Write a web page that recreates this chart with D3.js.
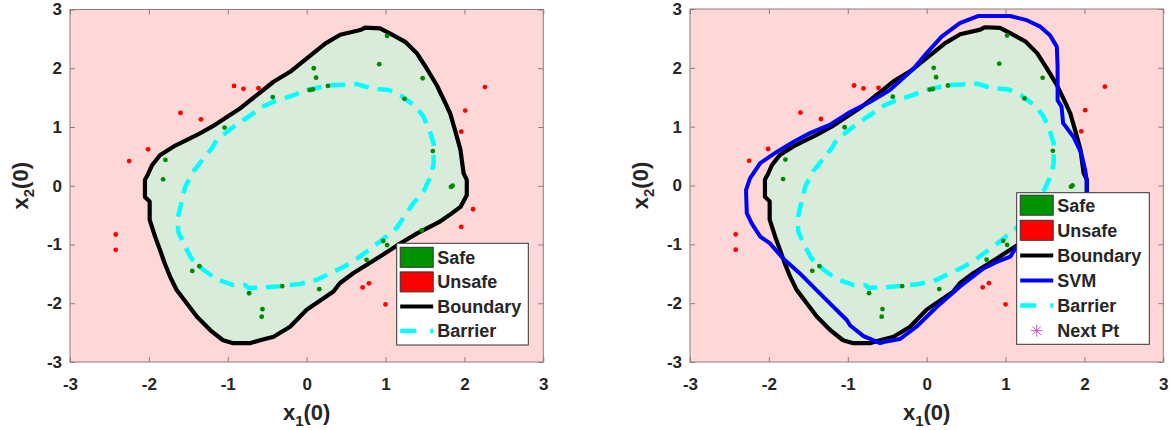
<!DOCTYPE html>
<html>
<head>
<meta charset="utf-8">
<script src="https://cdn.jsdelivr.net/npm/d3@7"></script>
<style>
  html, body { margin: 0; padding: 0; background: #fff; }
  svg { display: block; }
  text { font-family: "Liberation Sans", Arial, sans-serif; font-weight: bold; fill: #262626; }
</style>
</head>
<body>
<svg id="chart" width="1172" height="430"></svg>
<script>
// ---------------- data ----------------
const tickValues = [-3, -2, -1, 0, 1, 2, 3];
const xLabelMain = "x", xLabelSub = "1", yLabelSub = "2", labelTail = "(0)";

// boundary of the true safe set (x1, x2)
const boundaryPts = [
  [0.74,2.69],[0.93,2.68],[1.06,2.59],[1.25,2.45],[1.40,2.25],[1.52,2.00],[1.65,1.71],[1.74,1.46],
  [1.82,1.23],[1.88,0.95],[1.95,0.61],[1.99,0.21],[2.03,0.10],[2.03,-0.16],[1.95,-0.36],[1.84,-0.47],
  [1.69,-0.61],[1.40,-0.81],[1.19,-0.98],[0.89,-1.24],[0.59,-1.49],[0.42,-1.66],[0.34,-1.80],[0.00,-2.11],
  [-0.21,-2.40],[-0.42,-2.57],[-0.59,-2.63],[-0.72,-2.68],[-0.93,-2.68],[-1.06,-2.63],[-1.22,-2.46],
  [-1.39,-2.23],[-1.52,-2.00],[-1.65,-1.77],[-1.73,-1.55],[-1.80,-1.32],[-1.86,-1.09],[-1.92,-0.87],
  [-1.99,-0.58],[-1.99,-0.27],[-2.05,-0.19],[-2.05,0.10],[-2.01,0.20],[-1.96,0.35],[-1.86,0.52],
  [-1.69,0.665],[-1.39,0.864],[-1.20,1.005],[-0.84,1.32],[-0.42,1.77],[-0.21,1.94],[0.235,2.42],
  [0.425,2.57],[0.68,2.65]
];

// barrier level set
const barrierPts = [
  [0.00,1.63],[0.30,1.71],[0.64,1.73],[0.81,1.66],[1.04,1.63],[1.19,1.54],[1.38,1.35],[1.48,1.18],
  [1.57,0.89],[1.61,0.72],[1.61,0.38],[1.57,0.15],[1.48,-0.10],[1.35,-0.30],[1.14,-0.72],[0.93,-0.95],
  [0.64,-1.24],[0.47,-1.38],[0.13,-1.60],[-0.08,-1.67],[-0.34,-1.71],[-0.53,-1.73],[-0.74,-1.74],
  [-0.78,-1.69],[-0.93,-1.69],[-1.14,-1.59],[-1.31,-1.43],[-1.46,-1.24],[-1.54,-1.04],[-1.63,-0.78],
  [-1.63,-0.53],[-1.58,-0.24],[-1.54,-0.02],[-1.44,0.24],[-1.20,0.64],[-1.14,0.78],[-0.93,1.00],
  [-0.55,1.35],[-0.42,1.43],[-0.17,1.54]
];

// SVM decision boundary (right panel only)
const svmPts = [
  [0.19,2.53],[0.42,2.76],[0.65,2.88],[1.06,2.88],[1.27,2.81],[1.44,2.70],[1.56,2.56],[1.65,2.36],
  [1.66,2.02],[1.66,1.45],[1.71,1.34],[1.73,1.06],[1.86,0.83],[1.96,0.55],[2.01,0.26],[2.03,0.09],
  [2.03,-0.13],[1.95,-0.45],[1.60,-0.75],[1.30,-0.95],[1.14,-1.04],[1.06,-1.21],[0.89,-1.30],
  [0.72,-1.41],[0.42,-1.72],[0.13,-2.06],[-0.13,-2.40],[-0.34,-2.61],[-0.51,-2.65],[-0.59,-2.68],
  [-0.80,-2.56],[-0.97,-2.38],[-1.01,-2.29],[-1.23,-2.00],[-1.44,-1.72],[-1.61,-1.49],[-1.82,-1.24],
  [-1.99,-0.98],[-2.11,-0.87],[-2.22,-0.64],[-2.28,-0.47],[-2.29,-0.08],[-2.24,0.12],[-2.11,0.38],
  [-1.90,0.57],[-1.69,0.74],[-1.48,0.89],[-1.23,1.03],[-0.97,1.25],[-0.72,1.42],[-0.47,1.62],
  [-0.17,1.98],[0.00,2.25]
];

const safePts = [
  [0.09,2.00],[0.12,1.84],[0.04,1.63],[0.08,1.64],[0.27,1.70],[-0.43,1.51],[-1.04,0.99],[-1.79,0.44],
  [-1.82,0.11],[1.02,2.55],[0.92,2.07],[1.47,1.83],[1.24,1.48],[1.60,0.59],[1.85,0.00],[1.83,-0.02],
  [1.02,-1.01],[0.97,-0.94],[0.76,-1.26],[1.46,-0.76],[-0.31,-1.71],[0.16,-1.76],[-0.73,-1.83],
  [-0.56,-2.10],[-0.57,-2.23],[-1.45,-1.45],[-1.36,-1.37]
];

const unsafePts = [
  [-0.92,1.70],[-0.80,1.65],[-0.61,1.66],[-1.60,1.24],[-1.34,1.13],[-2.01,0.62],[-2.25,0.42],
  [-2.42,-0.83],[-2.42,-1.09],[2.26,1.68],[2.01,1.28],[1.96,0.92],[2.11,-0.40],[1.96,-0.70],
  [0.71,-1.73],[0.79,-1.66],[1.00,-2.02]
];

const nextPts = [];

const legendLeft = ["Safe", "Unsafe", "Boundary", "Barrier"];
const legendRight = ["Safe", "Unsafe", "Boundary", "SVM", "Barrier", "Next Pt"];

// ---------------- styles ----------------
const C = {
  bg: "#ffd7d7", fill: "#d9ecd9", axis: "#8f7b7b",
  safe: "#008a00", unsafe: "#ff0000", boundary: "#000000",
  svm: "#0000ff", barrier: "#00ffff", next: "#cc55cc",
  patchSafe: "#009400", patchUnsafe: "#ff0000"
};

const svg = d3.select("#chart");

function panel(opts) {
  const x = d3.scaleLinear().domain([-3, 3]).range([opts.left, opts.right]);
  const y = d3.scaleLinear().domain([-3, 3]).range([opts.bottom, opts.top]);
  const g = svg.append("g");
  const clipId = "clip" + opts.id;
  g.append("clipPath").attr("id", clipId).append("rect")
    .attr("x", opts.left).attr("y", opts.top)
    .attr("width", opts.right - opts.left).attr("height", opts.bottom - opts.top);

  g.append("rect").attr("x", opts.left).attr("y", opts.top)
    .attr("width", opts.right - opts.left).attr("height", opts.bottom - opts.top)
    .attr("fill", C.bg);

  const line = d3.line().x(d => x(d[0])).y(d => y(d[1])).curve(d3.curveLinearClosed);
  const plot = g.append("g").attr("clip-path", `url(#${clipId})`);

  plot.append("path").attr("d", line(boundaryPts)).attr("fill", C.fill).attr("stroke", "none");

  plot.append("path").attr("d", line(barrierPts)).attr("fill", "none")
    .attr("stroke", C.barrier).attr("stroke-width", 4.5)
    .attr("stroke-dasharray", "15,9").attr("stroke-linejoin", "round");

  plot.append("path").attr("d", line(boundaryPts)).attr("fill", "none")
    .attr("stroke", C.boundary).attr("stroke-width", 4.2).attr("stroke-linejoin", "round");

  if (opts.svm) {
    plot.append("path").attr("d", line(svmPts)).attr("fill", "none")
      .attr("stroke", C.svm).attr("stroke-width", 4).attr("stroke-linejoin", "round");
  }

  plot.selectAll(".safe").data(safePts).join("circle").attr("class", "safe")
    .attr("cx", d => x(d[0])).attr("cy", d => y(d[1])).attr("r", 2.4).attr("fill", C.safe);
  plot.selectAll(".unsafe").data(unsafePts).join("circle").attr("class", "unsafe")
    .attr("cx", d => x(d[0])).attr("cy", d => y(d[1])).attr("r", 2.4).attr("fill", C.unsafe);

  // axes (inward ticks)
  const fmt = d => String(d);
  const styleAxis = sel => {
    sel.select(".domain").remove();
    sel.selectAll(".tick line").attr("stroke", C.axis).attr("stroke-width", 1);
    sel.selectAll(".tick text").style("font-size", "17px").attr("fill", "#262626");
  };
  g.append("g").attr("transform", `translate(0,${opts.bottom})`)
    .call(d3.axisBottom(x).tickValues(tickValues).tickSize(-5).tickPadding(16).tickFormat(fmt))
    .call(styleAxis);
  g.append("g").attr("transform", `translate(${opts.left},0)`)
    .call(d3.axisLeft(y).tickValues(tickValues).tickSize(-5).tickPadding(8).tickFormat(fmt))
    .call(styleAxis);
  g.append("g").attr("transform", `translate(0,${opts.top})`)
    .call(d3.axisTop(x).tickValues(tickValues).tickSize(-5).tickFormat(""))
    .call(styleAxis);
  g.append("g").attr("transform", `translate(${opts.right},0)`)
    .call(d3.axisRight(y).tickValues(tickValues).tickSize(-5).tickFormat(""))
    .call(styleAxis);
  g.selectAll(".tick text").attr("font-family", null);

  g.append("rect").attr("x", opts.left).attr("y", opts.top)
    .attr("width", opts.right - opts.left).attr("height", opts.bottom - opts.top)
    .attr("fill", "none").attr("stroke", C.axis).attr("stroke-width", 1);

  // axis labels
  const xl = g.append("text").attr("x", (opts.left + opts.right) / 2).attr("y", 420)
    .attr("text-anchor", "middle").style("font-size", "22px");
  xl.append("tspan").text(xLabelMain);
  xl.append("tspan").text(xLabelSub).attr("dy", 6).style("font-size", "15px");
  xl.append("tspan").text(labelTail).attr("dy", -6);

  const yl = g.append("text").attr("transform", `translate(${opts.left - 42},${(opts.top + opts.bottom) / 2}) rotate(-90)`)
    .attr("text-anchor", "middle").style("font-size", "22px");
  yl.append("tspan").text(xLabelMain);
  yl.append("tspan").text(yLabelSub).attr("dy", 6).style("font-size", "15px");
  yl.append("tspan").text(labelTail).attr("dy", -6);

  // legend
  const L = opts.legend;
  const lg = g.append("g");
  lg.append("rect").attr("x", L.x).attr("y", L.y).attr("width", L.w).attr("height", L.h)
    .attr("fill", "#fff").attr("stroke", "#333").attr("stroke-width", 1);
  L.items.forEach((name, i) => {
    const cy = L.y + L.first + i * L.step;
    const px = L.x + 3.5, pw = 33;
    if (name === "Safe" || name === "Unsafe") {
      lg.append("rect").attr("x", px).attr("y", cy - 10).attr("width", pw).attr("height", 20)
        .attr("fill", name === "Safe" ? C.patchSafe : C.patchUnsafe).attr("stroke", "#333").attr("stroke-width", 1);
    } else if (name === "Boundary" || name === "SVM") {
      lg.append("line").attr("x1", px).attr("x2", px + pw).attr("y1", cy).attr("y2", cy)
        .attr("stroke", name === "SVM" ? C.svm : C.boundary).attr("stroke-width", 4);
    } else if (name === "Barrier") {
      lg.append("line").attr("x1", px).attr("x2", px + pw).attr("y1", cy).attr("y2", cy)
        .attr("stroke", C.barrier).attr("stroke-width", 4.5).attr("stroke-dasharray", "16,14");
    } else if (name === "Next Pt") {
      const cx = px + pw / 2, r = 6;
      const star = lg.append("g").attr("stroke", C.next).attr("stroke-width", 1);
      star.append("line").attr("x1", cx - r).attr("x2", cx + r).attr("y1", cy).attr("y2", cy);
      star.append("line").attr("x1", cx).attr("x2", cx).attr("y1", cy - r).attr("y2", cy + r);
      star.append("line").attr("x1", cx - r * 0.7).attr("x2", cx + r * 0.7).attr("y1", cy - r * 0.7).attr("y2", cy + r * 0.7);
      star.append("line").attr("x1", cx - r * 0.7).attr("x2", cx + r * 0.7).attr("y1", cy + r * 0.7).attr("y2", cy - r * 0.7);
    }
    lg.append("text").attr("x", L.x + 40.5).attr("y", cy).attr("dy", "0.35em")
      .style("font-size", "18px").text(name);
  });
}

panel({ id: "L", left: 70, right: 543.3, top: 9.5, bottom: 362, svm: false,
  legend: { x: 396.7, y: 243.3, w: 131.6, h: 101.7, first: 14, step: 24.6, items: legendLeft } });
panel({ id: "R", left: 690, right: 1163.3, top: 9, bottom: 362, svm: true,
  legend: { x: 1016.7, y: 192.7, w: 132.6, h: 151.6, first: 12.5, step: 25.1, items: legendRight } });
</script>
</body>
</html>
